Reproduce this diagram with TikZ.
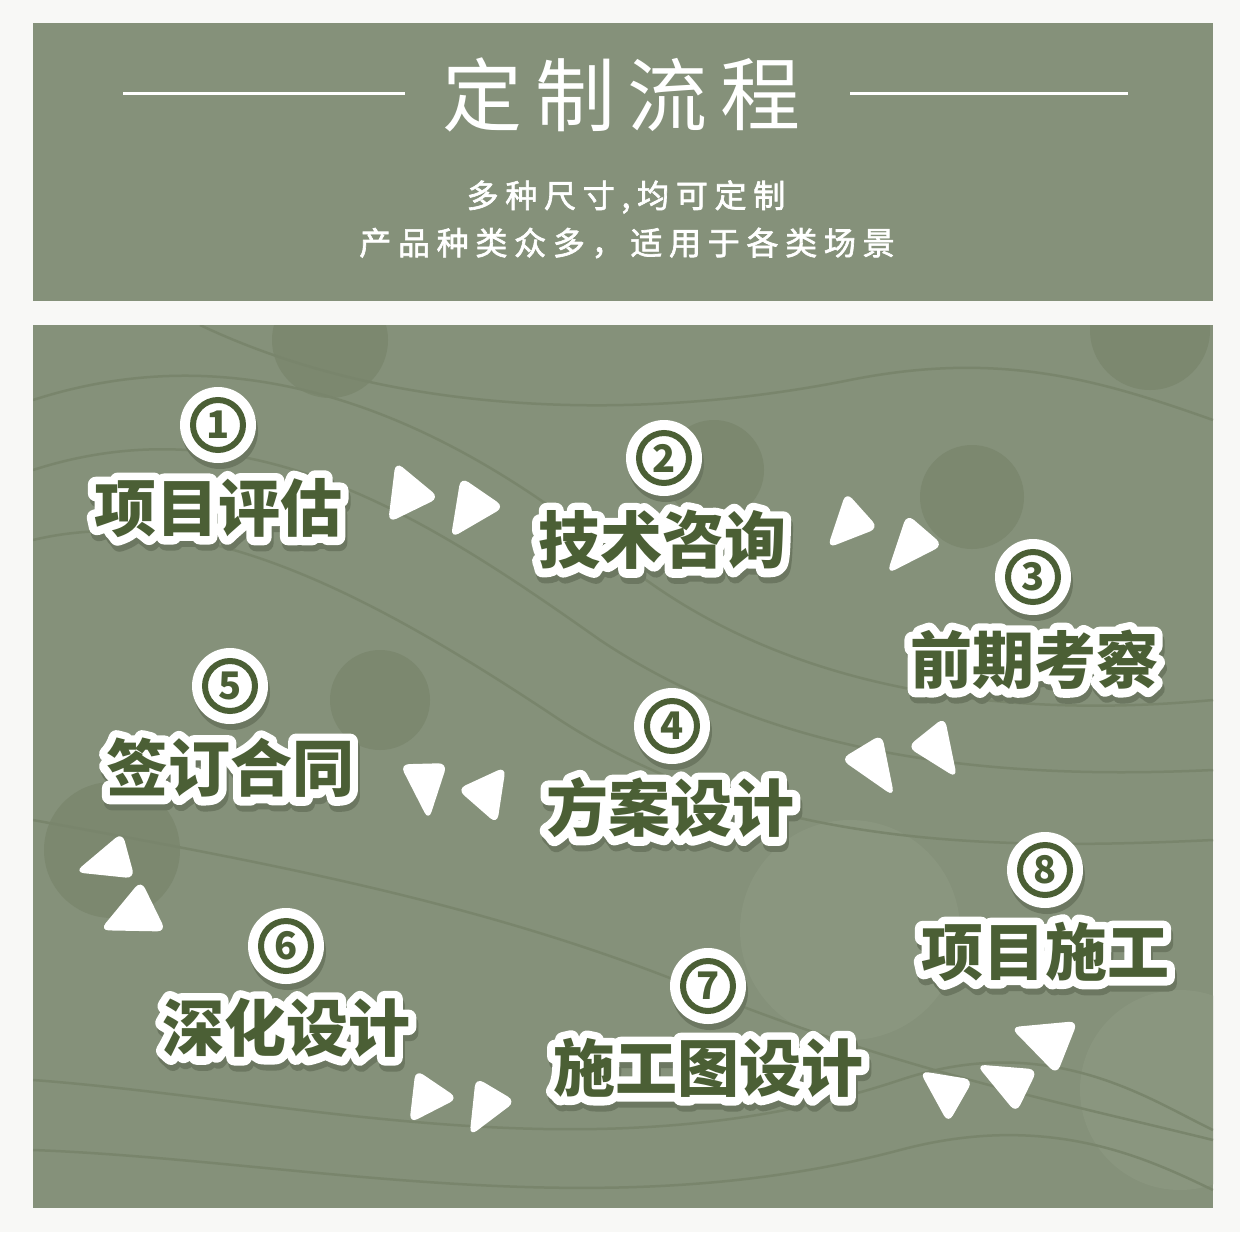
\documentclass[tikz,border=0pt]{standalone}
\usepackage{fontspec}
\newfontfamily\cjk{Noto Sans CJK SC}
\newfontfamily\cjkol[FakeBold=26,BoldFeatures={FakeBold=26}]{Noto Sans CJK SC}
\newfontfamily\cjksub[LetterSpace=21,FakeBold=2]{Noto Sans CJK SC}
\definecolor{pagebg}{HTML}{F8F8F6}
\definecolor{panel}{HTML}{85917A}
\definecolor{panelcirc}{HTML}{7C886F}
\definecolor{panellight}{HTML}{8A967F}
\definecolor{wave}{HTML}{79856C}
\definecolor{dkgreen}{HTML}{4B5F35}
\definecolor{shadowc}{HTML}{6C7761}
\newcommand\steplabel[4]{%
  \node[lblol,text=shadowc,xshift=2pt,yshift=-6pt] at (#2,#3) {#4};
  \node[lblol,text=white] at (#2,#3) {#4};
  \node[lbl,text=dkgreen] (#1) at (#2,#3) {#4};
}
\newcommand\stepnum[4]{%
  \fill[shadowc] (#2+2,#3+6) circle (38);
  \node[numc] (#1) at (#2,#3) {#4};
  \draw[dkgreen,line width=6pt] (#1.center) circle (25);
}
\newcommand\trif[6]{%
  \pgfmathsetmacro\cx{(#1+#3+#5)/3}\pgfmathsetmacro\cy{(#2+#4+#6)/3}%
  \fill[tri] ({\cx+1.25*(#1-\cx)},{\cy+1.25*(#2-\cy)}) -- ({\cx+1.25*(#3-\cx)},{\cy+1.25*(#4-\cy)}) -- ({\cx+1.25*(#5-\cx)},{\cy+1.25*(#6-\cy)}) -- cycle;
}
\begin{document}
\begin{tikzpicture}[x=1pt,y=-1pt,
  lbl/.style={inner sep=0pt,font=\cjk\bfseries\fontsize{62}{70}\selectfont},
  lblol/.style={inner sep=0pt,line join=round,font=\cjkol\bfseries\fontsize{62}{70}\selectfont},
  numc/.style={circle,fill=white,minimum size=76pt,inner sep=0pt,text=dkgreen,font=\cjk\bfseries\fontsize{38}{40}\selectfont},
  tri/.style={fill=white,rounded corners=9pt},
  titlech/.style={inner sep=0pt,text=white,font=\cjk\fontsize{80}{90}\selectfont},
  subt/.style={inner sep=0pt,text=white,font=\cjksub\fontsize{32}{36}\selectfont},
  wv/.style={draw=wave,line width=2.5pt}]
\useasboundingbox (0,0) rectangle (1240,1232);
\fill[pagebg] (0,0) rectangle (1240,1232);
% header
\fill[panel] (33,23) rectangle (1213,301);
\draw[white,line width=3pt] (123,93) -- (405,93);
\draw[white,line width=3pt] (850,93) -- (1128,93);
\node[titlech] (t1) at (482,95) {定};
\node[titlech] (t2) at (575,95) {制};
\node[titlech] (t3) at (667,95) {流};
\node[titlech] (t4) at (760,95) {程};
\node[subt] (sub1) at (626,197) {多种尺寸,均可定制};
\node[subt] (sub2) at (627,243) {产品种类众多，适用于各类场景};
% main panel
\fill[panel] (33,325) rectangle (1213,1208);
\begin{scope}
\clip (33,325) rectangle (1213,1208);
\fill[panellight] (850,930) circle (110);
\fill[panellight] (1180,1090) circle (100);
\fill[panelcirc] (330,340) circle (58);
\fill[panelcirc] (714,470) circle (50);
\fill[panelcirc] (972,497) circle (52);
\fill[panelcirc] (380,700) circle (50);
\fill[panelcirc] (112,850) circle (68);
\fill[panelcirc] (1150,330) circle (60);
\draw[wv] (33,400) .. controls (250,330) and (450,420) .. (620,560) .. controls (780,690) and (1000,720) .. (1213,700);
\draw[wv] (33,470) .. controls (250,400) and (430,520) .. (600,640) .. controls (780,760) and (1000,780) .. (1213,770);
\draw[wv] (33,540) .. controls (200,500) and (380,600) .. (560,720) .. controls (760,850) and (1000,850) .. (1213,840);
\draw[wv] (200,325) .. controls (400,420) and (650,420) .. (850,380) .. controls (1000,350) and (1100,380) .. (1213,420);
\draw[wv] (33,820) .. controls (250,860) and (480,900) .. (700,990) .. controls (900,1070) and (1050,1100) .. (1213,1140);
\draw[wv] (33,1080) .. controls (300,1100) and (600,1180) .. (900,1080) .. controls (1050,1030) and (1150,1100) .. (1213,1130);
\draw[wv] (33,1150) .. controls (300,1160) and (600,1230) .. (900,1150) .. controls (1050,1110) and (1150,1160) .. (1213,1190);
\end{scope}
% triangles
\trif{398}{468}{433}{497}{392}{517}
\trif{463}{483}{498}{507}{455}{532}
\trif{847}{498}{873}{527}{832}{543}
\trif{908}{520}{937}{545}{892}{568}
\trif{880}{740}{890}{790}{847}{760}
\trif{943}{723}{953}{772}{913}{747}
\trif{405}{768}{443}{767}{428}{813}
\trif{502}{772}{495}{818}{463}{790}
\trif{120}{838}{130}{875}{82}{870}
\trif{140}{887}{160}{928}{107}{927}
\trif{418}{1075}{452}{1098}{413}{1118}
\trif{478}{1083}{510}{1102}{473}{1130}
\trif{925}{1075}{968}{1082}{948}{1117}
\trif{983}{1068}{1032}{1072}{1015}{1107}
\trif{1018}{1030}{1072}{1025}{1055}{1068}
% steps
\stepnum{n1}{218}{425}{1}
\steplabel{s1}{218}{508}{项目评估}
\stepnum{n2}{664}{458}{2}
\steplabel{s2}{662}{540}{技术咨询}
\stepnum{n3}{1033}{577}{3}
\steplabel{s3}{1034}{660}{前期考察}
\stepnum{n4}{672}{726}{4}
\steplabel{s4}{670}{808}{方案设计}
\stepnum{n5}{230}{686}{5}
\steplabel{s5}{230}{768}{签订合同}
\stepnum{n6}{286}{946}{6}
\steplabel{s6}{286}{1028}{深化设计}
\stepnum{n7}{708}{986}{7}
\steplabel{s7}{708}{1068}{施工图设计}
\stepnum{n8}{1045}{870}{8}
\steplabel{s8}{1045}{952}{项目施工}
\end{tikzpicture}
\end{document}
